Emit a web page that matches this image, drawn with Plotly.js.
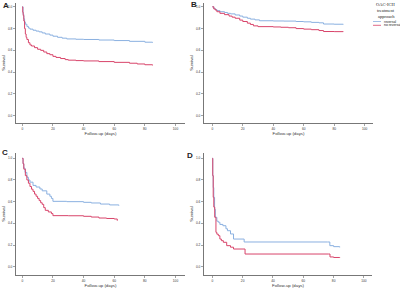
<!DOCTYPE html>
<html><head><meta charset="utf-8">
<script src="https://cdn.plot.ly/plotly-3.0.1.min.js"></script>
<style>html,body{margin:0;padding:0;background:#fff}#chart{width:400px;height:288px}</style>
</head><body><div id="chart"></div>
<script>
// Panel A
const daysA_rev = [0, 0.5, 1, 1.5, 2, 3, 4, 5, 7, 9, 11, 13, 15, 18, 20, 23, 26, 29, 35, 40, 50, 60, 70, 80, 85];
const survA_rev = [1.0, 0.93, 0.89, 0.86, 0.84, 0.82, 0.805, 0.795, 0.785, 0.777, 0.77, 0.76, 0.75, 0.74, 0.73, 0.72, 0.712, 0.705, 0.702, 0.70, 0.695, 0.69, 0.683, 0.675, 0.67];
const daysA_no = [0, 0.3, 0.6, 1, 1.5, 2, 2.5, 3, 4, 5, 6, 8, 10, 12, 14, 16, 18, 20, 22, 25, 28, 30, 35, 40, 50, 60, 70, 75, 80, 85];
const survA_no = [1.0, 0.95, 0.92, 0.87, 0.80, 0.75, 0.72, 0.70, 0.67, 0.65, 0.64, 0.625, 0.61, 0.60, 0.585, 0.57, 0.56, 0.545, 0.535, 0.525, 0.515, 0.51, 0.506, 0.503, 0.497, 0.49, 0.482, 0.475, 0.468, 0.462];
// Panel B
const daysB_rev = [0, 1, 2, 3, 5, 8, 10, 12, 15, 18, 20, 23, 25, 28, 31, 40, 47, 55, 60, 65, 70, 73, 80, 86];
const survB_rev = [1.0, 0.985, 0.975, 0.965, 0.955, 0.948, 0.94, 0.935, 0.925, 0.915, 0.905, 0.895, 0.887, 0.88, 0.872, 0.870, 0.869, 0.865, 0.862, 0.857, 0.853, 0.842, 0.840, 0.838];
const daysB_no = [0, 1, 2, 3, 5, 8, 11, 13, 15, 18, 20, 23, 25, 27, 30, 40, 45, 50, 55, 60, 65, 70, 73, 80, 86];
const survB_no = [1.0, 0.98, 0.97, 0.955, 0.94, 0.928, 0.915, 0.905, 0.895, 0.878, 0.865, 0.85, 0.838, 0.825, 0.818, 0.815, 0.812, 0.808, 0.80, 0.795, 0.79, 0.782, 0.773, 0.772, 0.771];
// Panel C
const daysC_rev = [0, 0.5, 1, 1.8, 3, 4, 5, 7, 9, 11.5, 13, 16, 18, 19, 20, 29, 40, 45, 51, 57, 63];
const survC_rev = [1.0, 0.95, 0.91, 0.87, 0.825, 0.80, 0.78, 0.75, 0.735, 0.717, 0.70, 0.67, 0.65, 0.63, 0.603, 0.60, 0.594, 0.588, 0.578, 0.57, 0.563];
const daysC_no = [0, 0.5, 1, 2, 3, 4, 5, 6, 7, 8, 9, 10, 11, 12, 13, 14, 15, 17, 19, 20, 30, 40, 45, 50, 55, 60, 62];
const survC_no = [1.0, 0.95, 0.90, 0.84, 0.80, 0.77, 0.74, 0.715, 0.695, 0.67, 0.65, 0.63, 0.61, 0.59, 0.575, 0.545, 0.52, 0.505, 0.49, 0.471, 0.47, 0.465, 0.458, 0.449, 0.445, 0.44, 0.424];
// Panel D
const daysD_rev = [0, 0.3, 0.6, 1, 1.5, 2, 3, 4, 5, 7, 9, 10, 12, 14, 21, 76, 77.5, 80, 84];
const survD_rev = [1.0, 0.84, 0.73, 0.64, 0.53, 0.456, 0.42, 0.41, 0.39, 0.378, 0.35, 0.332, 0.302, 0.255, 0.228, 0.228, 0.194, 0.185, 0.178];
const daysD_no = [0, 0.3, 0.6, 1, 1.6, 2.4, 3, 4, 5, 6, 7.3, 9.5, 12, 14, 21.6, 76.5, 77.6, 80, 84];
const survD_no = [1.0, 0.84, 0.64, 0.55, 0.456, 0.317, 0.30, 0.286, 0.255, 0.24, 0.225, 0.194, 0.18, 0.163, 0.117, 0.117, 0.09, 0.085, 0.08];

const panelLabels = ['A', 'B', 'C', 'D'];
const seriesNames = ['reversal', 'no reversal'];
const legendTitleLines = ['OAC-ICH', 'treatment', 'approach'];
const xTitle = 'Follow-up (days)';
const yTitle = 'Survival';
const xTicks = [0, 20, 40, 60, 80, 100];
const yTicks = [0, 0.2, 0.4, 0.6, 0.8, 1.0];

const BLUE = '#8ab0e0', RED = '#d8446a';
const panels = [
  [daysA_rev, survA_rev, daysA_no, survA_no],
  [daysB_rev, survB_rev, daysB_no, survB_no],
  [daysC_rev, survC_rev, daysC_no, survC_no],
  [daysD_rev, survD_rev, daysD_no, survD_no]
];
const traces = [];
panels.forEach((p, i) => {
  const sfx = i === 0 ? '' : String(i + 1);
  traces.push({x: p[0], y: p[1], type: 'scatter', mode: 'lines', line: {shape: 'hv', color: BLUE, width: 1}, xaxis: 'x' + sfx, yaxis: 'y' + sfx, name: seriesNames[0], showlegend: false, hoverinfo: 'skip'});
  traces.push({x: p[2], y: p[3], type: 'scatter', mode: 'lines', line: {shape: 'hv', color: RED, width: 1}, xaxis: 'x' + sfx, yaxis: 'y' + sfx, name: seriesNames[1], showlegend: false, hoverinfo: 'skip'});
});

const sans = 'Liberation Sans, Arial, sans-serif';
function xax(domain, range, anchor) {
  return {domain: domain, range: range, anchor: anchor, tickvals: xTicks, ticks: 'outside', ticklen: 2, tickwidth: 0.6, tickcolor: '#666',
    showline: true, linecolor: '#777', linewidth: 1, showgrid: false, zeroline: false,
    tickfont: {size: 3.2, family: sans, color: '#333'},
    title: {text: xTitle, font: {size: 4.3, family: sans, color: '#333'}, standoff: 2}};
}
function yax(domain, range, anchor) {
  return {domain: domain, range: range, anchor: anchor, tickvals: yTicks, tickformat: '.1f', ticks: 'outside', ticklen: 2, tickwidth: 0.6, tickcolor: '#666',
    showline: true, linecolor: '#777', linewidth: 1, showgrid: false, zeroline: false,
    tickfont: {size: 3.2, family: sans, color: '#333'},
    title: {text: yTitle, font: {size: 4.3, family: sans, color: '#333'}, standoff: 2}};
}
const W = 400, H = 288;
const px = v => v / W, py = v => 1 - v / H;
function ann(text, x, y, size, family, xanchor) {
  return {text: text, x: px(x), y: py(y), xref: 'paper', yref: 'paper', xanchor: xanchor || 'center', yanchor: 'middle', showarrow: false,
    font: {size: size, family: family, color: '#222'}};
}
const layout = {
  width: W, height: H, margin: {l: 0, r: 0, t: 0, b: 0}, paper_bgcolor: '#fff', plot_bgcolor: '#fff', showlegend: false,
  xaxis: xax([px(16), px(185)], [-4.1, 106.2], 'y'),
  yaxis: yax([py(123), py(3)], [-0.067, 1.035], 'x'),
  xaxis2: xax([px(204), px(373)], [-5.45, 105.5], 'y2'),
  yaxis2: yax([py(123), py(3)], [-0.067, 1.035], 'x2'),
  xaxis3: xax([px(16), px(185)], [-4.1, 106.2], 'y3'),
  yaxis3: yax([py(275), py(153)], [-0.0766, 1.049], 'x3'),
  xaxis4: xax([px(204), px(372)], [-5.47, 105.3], 'y4'),
  yaxis4: yax([py(275), py(153)], [-0.0766, 1.049], 'x4'),
  annotations: [
    ann('<b>' + panelLabels[0] + '</b>', 6, 5, 8, sans),
    ann('<b>' + panelLabels[1] + '</b>', 193.5, 4.5, 8, sans),
    ann('<b>' + panelLabels[2] + '</b>', 5, 152, 8, sans),
    ann('<b>' + panelLabels[3] + '</b>', 190, 155, 8, sans),
    ann(legendTitleLines[0], 386, 4.5, 4.5, 'Liberation Serif, serif'),
    ann(legendTitleLines[1], 386, 10.5, 4.5, 'Liberation Serif, serif'),
    ann(legendTitleLines[2], 386, 16, 4.5, 'Liberation Serif, serif'),
    ann(seriesNames[0], 382, 21.5, 3.4, sans, 'left'),
    ann(seriesNames[1], 382, 25.3, 3.4, sans, 'left')
  ],
  shapes: [
    {type: 'line', xref: 'paper', yref: 'paper', x0: px(373), x1: px(381), y0: py(21.5), y1: py(21.5), line: {color: BLUE, width: 0.8}},
    {type: 'line', xref: 'paper', yref: 'paper', x0: px(373), x1: px(381), y0: py(25.3), y1: py(25.3), line: {color: RED, width: 0.8}}
  ]
};
Plotly.newPlot('chart', traces, layout, {staticPlot: true, displayModeBar: false});
</script></body></html>
